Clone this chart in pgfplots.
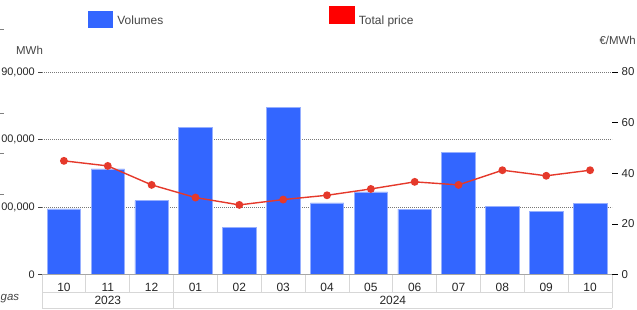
\documentclass[border=0pt]{standalone}
\usepackage{fontspec}
\setmainfont{Liberation Sans}
\usepackage{pgfplots}
\usepackage{pgfplotstable}
\pgfplotsset{compat=1.18}
\definecolor{barblue}{RGB}{51,102,255}
\definecolor{baredge}{RGB}{150,175,255}
\definecolor{linered}{RGB}{229,57,43}
\definecolor{legred}{RGB}{255,0,0}
\definecolor{txt}{RGB}{68,68,68}
\definecolor{cellgray}{RGB}{215,215,215}
\definecolor{gridgray}{RGB}{120,120,120}

\pgfplotstableread{
idx vol price
0 97200 44.9
1 156500 42.9
2 109500 35.4
3 217800 30.4
4 70000 27.5
5 248000 29.6
6 106000 31.3
7 122400 33.8
8 96700 36.6
9 181300 35.4
10 100600 41.2
11 93200 39.0
12 105600 41.2
}\data

\begin{document}
\begin{tikzpicture}[x=1bp,y=1bp,font=\fontsize{11.5}{13}\selectfont]
\useasboundingbox (0,0) rectangle (637,309);
\clip (0,0) rectangle (637,309);
\begin{axis}[
  at={(42bp,34.5bp)}, anchor=south west,
  scale only axis, width=570bp, height=202.5bp,
  xmin=-0.5, xmax=12.5, ymin=0, ymax=300000,
  axis y line*=left, axis x line*=bottom,
  axis line style={draw=none},
  xtick={0,...,12},
  xticklabels={10,11,12,01,02,03,04,05,06,07,08,09,10},
  xtick style={draw=none},
  xticklabel style={anchor=center, yshift=-8.5bp, font=\fontsize{12}{14}\selectfont, text=black!85},
  scaled y ticks=false,
  ytick={0,100000,200000,300000},
  yticklabels={0,{00,000},{00,000},{90,000}},
  tick align=outside, major tick length=4bp,
  ytick style={txt, line width=0.6bp},
  yticklabel style={text=black!85, inner sep=0pt, xshift=-3bp, font=\fontsize{11}{13}\selectfont},
  ymajorgrids,
  grid style={gridgray, dash pattern=on 1.2bp off 0.8bp, line width=0.5bp},
  ybar, bar width=33.5bp,
]
\addplot[fill=barblue, draw=baredge, line width=0.6bp] table[x=idx,y=vol]{\data};
\end{axis}
\begin{axis}[
  at={(42bp,34.5bp)}, anchor=south west,
  scale only axis, width=570bp, height=202.5bp,
  xmin=-0.5, xmax=12.5, ymin=0, ymax=80,
  axis y line*=right, axis x line=none,
  axis line style={draw=none},
  ytick={0,20,40,60,80},
  tick align=outside, major tick length=5.5bp,
  ytick style={black, line width=0.6bp},
  yticklabel style={text=black!85, inner sep=0pt, xshift=4bp},
  /pgf/number format/assume math mode=true,
  legend style={at={(0.0807,1.2715)}, anchor=west, draw=none, fill=none, inner sep=0pt,
    font=\fontsize{12}{14}\selectfont, text=txt,
    /tikz/every even column/.append style={column sep=164bp}},
  legend columns=2, legend cell align=left,
]
\addlegendimage{legend image code/.code={\fill[barblue] (0bp,-6bp) rectangle (24bp,10bp);\path[draw=none,fill=none] (0bp,0bp) -- (27bp,0bp);}}
\addlegendentry{Volumes}
\addplot[linered, line width=1.4bp, mark=*, mark size=3.2bp,
  mark options={fill=linered, draw=linered},
  legend image code/.code={\fill[legred] (0bp,-2bp) rectangle (24bp,14bp);\path[draw=none,fill=none] (0bp,0bp) -- (27bp,0bp);}]
  table[x=idx,y=price]{\data};
\addlegendentry{Total price}
\end{axis}
% category table
\draw[gray!70, line width=0.7bp] (42,34.5) -- (612,34.5);
\foreach \k in {0,...,13} \draw[cellgray, line width=0.8bp] ({42+43.846*\k},34.5) -- ({42+43.846*\k},17);
\draw[cellgray, line width=0.8bp] (42,17) -- (612,17);
\draw[cellgray, line width=0.8bp] (42,1) -- (612,1);
\foreach \xx in {42,173.54,612} \draw[cellgray, line width=0.8bp] (\xx,17) -- (\xx,1);
\node[font=\fontsize{12}{14}\selectfont, text=black!85] at (107.8,9) {2023};
\node[font=\fontsize{12}{14}\selectfont, text=black!85] at (392.8,9) {2024};
\node[anchor=west, inner sep=0pt, font=\itshape\fontsize{11.5}{13}\selectfont, text=txt] at (0.5,10) {gas};
\node[anchor=west, inner sep=0pt, text=txt] at (16,259) {MWh};
\node[anchor=east, inner sep=0pt, text=txt] at (636,269) {€/MWh};
\foreach \yy in {29,113,153,194} \draw[gray, line width=0.6bp] (0,309-\yy) -- (4,309-\yy);
\end{tikzpicture}
\end{document}
